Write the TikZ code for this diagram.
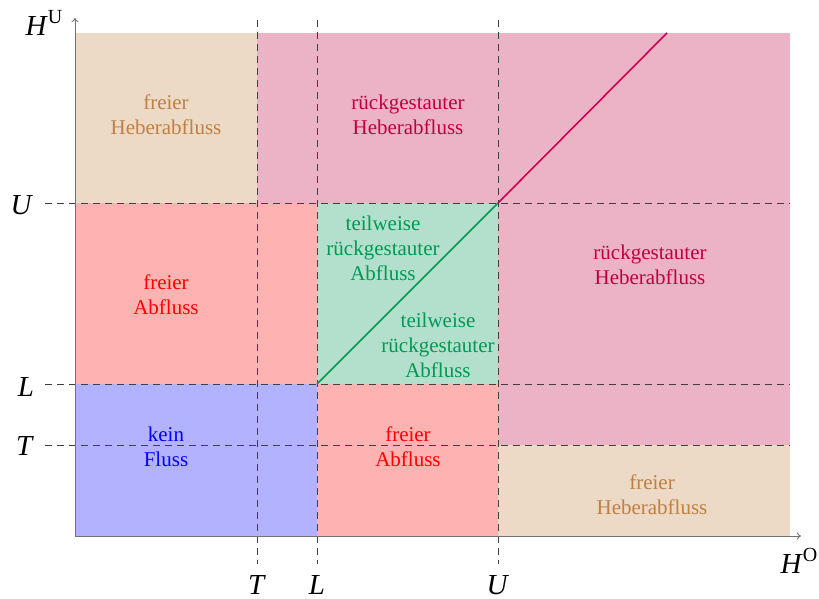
\documentclass[tikz,border=0pt]{standalone}
\usepackage{fontspec}
\setmainfont{Liberation Serif}
\usetikzlibrary{arrows.meta}
\definecolor{cbrown}{rgb}{0.75,0.5,0.25}
\definecolor{cpurple}{rgb}{0.75,0,0.25}
\definecolor{cgreen}{rgb}{0,0.6,0.33}
\definecolor{cline}{rgb}{0.8,0,0.3}
\begin{document}
\begin{tikzpicture}[x=1pt,y=-1pt,
  lbl/.style={align=center,font=\fontsize{21}{25}\selectfont,inner sep=0pt},
  axlbl/.style={font=\fontsize{29}{32}\selectfont,inner sep=0pt},
  grid/.style={dashed,dash pattern=on 7pt off 5pt,line width=0.8pt,black!75},
  axis/.style={line width=0.9pt,black!55,-{To[length=4pt,width=7pt]}}]
\useasboundingbox (0,0) rectangle (819,599);
% fills
\fill[cbrown!30] (75,33) rectangle (257,203);
\fill[cpurple!30] (257,33) rectangle (790,203);
\fill[cpurple!30] (498,203) rectangle (790,445);
\fill[red!30] (75,203) rectangle (317,384);
\fill[red!30] (317,384) rectangle (498,536);
\fill[cgreen!30] (317,203) rectangle (498,384);
\fill[blue!30] (75,384) rectangle (317,536);
\fill[cbrown!30] (498,445) rectangle (790,536);
% coordinates
\coordinate (o) at (75,536);
\coordinate (xe) at (801,536);
\coordinate (ye) at (75,18);
\coordinate (gL) at (317,384);
\coordinate (gU) at (498,203);
\coordinate (pE) at (667,33);
% grid lines
\draw[grid] (257,20) -- (257,564);
\draw[grid] (317,20) -- (317,564);
\draw[grid] (498,20) -- (498,564);
\draw[grid] (45,203) -- (790,203);
\draw[grid] (45,384) -- (790,384);
\draw[grid] (45,445) -- (790,445);
% diagonals
\draw[cgreen,line width=1.6pt] (gL) -- (gU);
\draw[cline,line width=1.6pt] (gU) -- (pE);
% axes
\draw[axis] (o) -- (xe);
\draw[axis] (o) -- (ye);
% axis labels
\node[axlbl] (hu) at (44,23) {\textit{H}\raisebox{0.42em}{\fontsize{20}{20}\selectfont U}};
\node[axlbl] (ho) at (799,561) {\textit{H}\raisebox{0.42em}{\fontsize{20}{20}\selectfont O}};
\node[axlbl] (yU) at (22,205) {\textit{U}};
\node[axlbl] (yL) at (26,387) {\textit{L}};
\node[axlbl] (yT) at (25,446) {\textit{T}};
\node[axlbl,anchor=base] (xT) at (257,594) {\textit{T}};
\node[axlbl,anchor=base] (xL) at (317,594) {\textit{L}};
\node[axlbl,anchor=base] (xU) at (498,594) {\textit{U}};
% region labels
\node[lbl,text=cbrown] (r1) at (166,115) {freier\\Heberabfluss};
\node[lbl,text=cpurple] (r2) at (408,115) {rückgestauter\\Heberabfluss};
\node[lbl,text=red] (r3) at (166,295) {freier\\Abfluss};
\node[lbl,text=cgreen] (r4) at (383,248) {teilweise\\rückgestauter\\Abfluss};
\node[lbl,text=cgreen] (r5) at (438,345) {teilweise\\rückgestauter\\Abfluss};
\node[lbl,text=cpurple] (r6) at (650,265) {rückgestauter\\Heberabfluss};
\node[lbl,text=blue] (r7) at (166,447) {kein\\Fluss};
\node[lbl,text=red] (r8) at (408,447) {freier\\Abfluss};
\node[lbl,text=cbrown] (r9) at (652,495) {freier\\Heberabfluss};
\end{tikzpicture}
\end{document}
